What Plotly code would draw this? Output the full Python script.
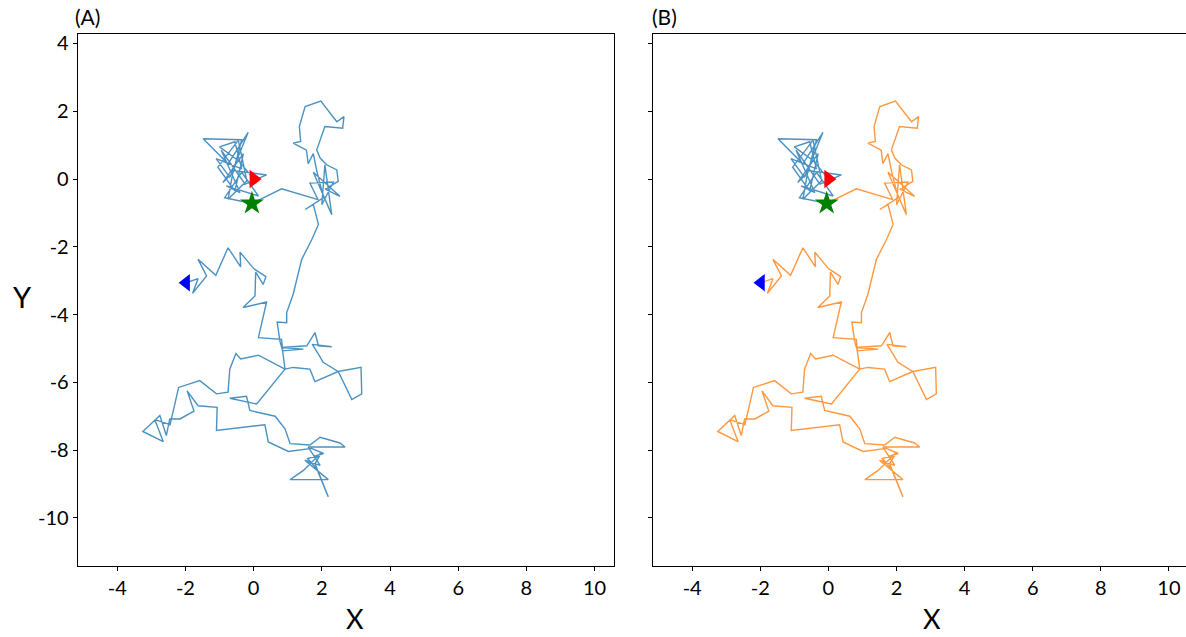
import plotly.graph_objects as go

# Phase 1: wandering near the origin (blue in panel B)
cluster_x = [0.00, -0.45, -1.00, -0.55, -0.35, -1.10, -0.70, -0.16, -0.75, -1.48, -0.35, -0.60,
             -0.90, -0.30, -0.55, -1.05, -0.45, -0.20, -0.75, -0.60, 0.38, -0.25, -0.95, -0.40,
             -0.80, 0.14, -0.35, -0.85, -0.05]
cluster_y = [0.00, 0.55, 0.95, 1.10, 0.30, 0.60, 0.05, 1.38, 0.45, 1.19, 1.16, 0.20,
             -0.10, 0.75, -0.35, 0.35, 1.15, -0.05, -0.60, 0.25, 0.12, -0.15, 0.85, -0.40,
             -0.20, -0.50, 0.20, -0.55, -0.72]

# Phase 2: the rest of the walk (orange in panel B)
walk_x = [-0.05, 0.82, 1.89, 1.65, 2.34, 2.00, 2.09, 2.29, 1.75, 2.53, 2.10, 2.48, 2.44, 2.14,
          1.95, 1.85, 2.09, 2.61, 2.65, 2.44, 1.97, 1.51, 1.34, 1.38, 1.16, 1.55, 1.60, 1.75,
          1.85, 2.05, 1.51, 1.75, 1.90, 1.70, 1.41, 1.25, 1.16, 0.97, 0.97, 0.69, 0.77, 0.85,
          1.46, 0.82, 1.56, 1.80, 1.90, 2.29, 1.72, 1.90, 2.04, 2.48, 3.15, 3.17, 2.88, 2.48,
          1.80, 1.65, 1.16, 0.92, 0.09, -0.70, -0.21, -0.11, 0.63, 0.92, 1.07,
          1.65, 1.95, 2.53, 2.68, 1.60, 1.95, 1.50, 2.19, 1.07, 1.46, 2.00, 1.80, 2.19, 1.85,
          1.58, 2.05, 1.70, 1.02, 0.43, 0.33, -1.09, -1.07, -1.63, -1.95, -1.75, -2.16, -2.46,
          -2.56, -2.75, -3.25, -2.65, -2.90, -2.45, -2.20, -1.58, -1.09, -0.75, -0.70, -0.52,
          -0.38, 0.14, 0.92, 0.85, 0.82, 0.14, 0.38, -0.31, 0.04, 0.06, 0.28, 0.36, 0.01,
          -0.40, -0.38, -0.75, -1.11, -1.63, -1.38, -1.79, -1.63, -1.98]
walk_y = [-0.72, -0.29, -0.61, -0.12, -0.09, -0.76, 0.42, -1.05, 0.20, -0.51, -0.30, -0.07, 0.27, 0.42,
          0.62, 0.86, 1.55, 1.50, 1.84, 1.69, 2.30, 2.14, 1.55, 1.11, 1.06, 0.85, 0.45, 0.75,
          0.25, -0.55, -0.90, -0.75, -1.34, -1.80, -2.37, -3.00, -3.40, -3.94, -4.24, -4.22, -4.78, -5.07,
          -5.02, -4.97, -4.92, -4.53, -4.92, -4.95, -4.88, -5.17, -5.41, -5.68, -5.56, -6.34, -6.51, -5.68,
          -5.98, -5.61, -5.56, -5.61, -6.64, -6.47, -6.41, -6.83, -7.00, -7.37, -7.81,
          -7.85, -7.62, -7.79, -7.91, -7.91, -8.45, -8.30, -8.87, -8.87, -8.60, -8.06, -8.40, -9.38, -8.55,
          -8.25, -8.10, -7.95, -8.04, -7.76, -7.25, -7.42, -6.74, -6.69, -6.25, -6.85, -7.08, -7.08,
          -7.57, -6.98, -7.45, -7.75, -7.10, -7.25, -6.15, -5.95, -6.34, -6.29, -5.61, -5.15,
          -5.31, -5.20, -5.61, -5.07, -4.73, -4.68, -3.63, -3.79, -3.45, -2.75, -3.11, -2.88, -2.65,
          -2.16, -2.59, -2.03, -2.84, -2.37, -2.86, -3.37, -2.94, -3.06]

x_ticks = [-4, -2, 0, 2, 4, 6, 8, 10]
y_ticks = [4, 2, 0, -2, -4, -6, -8, -10]

C_BLUE = "#1f77b4"
C_ORANGE = "#ff7f0e"
W, H = 1186, 637

full_x = cluster_x + walk_x[1:]
full_y = cluster_y + walk_y[1:]

fig = go.Figure()

def add_markers(xa, ya):
    fig.add_trace(go.Scatter(x=[cluster_x[0]], y=[cluster_y[0]], mode="markers",
                             marker=dict(symbol="triangle-right", size=16, color="red"),
                             xaxis=xa, yaxis=ya, showlegend=False))
    fig.add_trace(go.Scatter(x=[walk_x[0]], y=[walk_y[0]], mode="markers",
                             marker=dict(symbol="star", size=18, color="green"),
                             xaxis=xa, yaxis=ya, showlegend=False))
    fig.add_trace(go.Scatter(x=[walk_x[-1]], y=[walk_y[-1]], mode="markers",
                             marker=dict(symbol="triangle-left", size=15, color="blue"),
                             xaxis=xa, yaxis=ya, showlegend=False))

# Panel A
fig.add_trace(go.Scatter(x=full_x, y=full_y, mode="lines", line=dict(color=C_BLUE, width=1.4),
                         opacity=0.8, xaxis="x", yaxis="y", showlegend=False))
add_markers("x", "y")

# Panel B
fig.add_trace(go.Scatter(x=cluster_x, y=cluster_y, mode="lines", line=dict(color=C_BLUE, width=1.4),
                         opacity=0.8, xaxis="x2", yaxis="y2", showlegend=False))
fig.add_trace(go.Scatter(x=walk_x, y=walk_y, mode="lines", line=dict(color=C_ORANGE, width=1.4),
                         opacity=0.8, xaxis="x2", yaxis="y2", showlegend=False))
add_markers("x2", "y2")

tickfont = dict(family="Lato, Open Sans, sans-serif", size=20, color="black")
common_x = dict(range=[-5.16, 10.56], tickvals=x_ticks, ticktext=[str(v) for v in x_ticks],
                showgrid=False, zeroline=False, showline=True, linecolor="black", linewidth=1,
                mirror=True, ticks="outside", ticklen=4, tickcolor="black", tickfont=tickfont,
                automargin=False)
common_y = dict(range=[-11.42, 4.28], tickvals=y_ticks, ticktext=[str(v) for v in y_ticks],
                showgrid=False, zeroline=False, showline=True, linecolor="black", linewidth=1,
                ticks="outside", ticklen=4, tickcolor="black", tickfont=tickfont,
                automargin=False)

xA0, xA1 = 77.7 / W, 613.7 / W
xB0 = 652.7 / W
xB_range_end = -5.16 + (W - 652.7) / 34.05

fig.update_layout(
    width=W, height=H,
    margin=dict(l=0, r=0, t=34, b=71),
    plot_bgcolor="white", paper_bgcolor="white",
    xaxis=dict(common_x, domain=[xA0, xA1], anchor="y"),
    yaxis=dict(common_y, domain=[0, 1], anchor="x", mirror=True),
    xaxis2=dict(common_x, domain=[xB0, 1.0], anchor="y2", range=[-5.16, xB_range_end]),
    yaxis2=dict(common_y, domain=[0, 1], anchor="x2", showticklabels=False, mirror=False),
)

annfont = dict(family="Lato, Open Sans, sans-serif", color="black")
anns = [
    dict(text="(A)", x=xA0 - 0.004, y=1.0, yshift=3, xanchor="left", yanchor="bottom", font=dict(annfont, size=21)),
    dict(text="(B)", x=xB0 - 0.002, y=1.0, yshift=3, xanchor="left", yanchor="bottom", font=dict(annfont, size=21)),
    dict(text="X", x=(xA0 + xA1) / 2 + 9 / W, y=0, yshift=-69, xanchor="center", yanchor="bottom",
         height=32, valign="middle", borderpad=0, font=dict(annfont, size=27)),
    dict(text="X", x=xB0 + (xA1 - xA0) / 2 + 11 / W, y=0, yshift=-69, xanchor="center", yanchor="bottom",
         height=32, valign="middle", borderpad=0, font=dict(annfont, size=27)),
    dict(text="Y", x=11 / W, y=0.5, yshift=4, xanchor="left", yanchor="middle", font=dict(annfont, size=29)),
]
for a in anns:
    a.update(xref="paper", yref="paper", showarrow=False)
fig.update_layout(annotations=anns)

fig.write_html("out.html", config={"displayModeBar": False},
               post_script="document.body.style.margin='0px';document.body.style.padding='0px';")
